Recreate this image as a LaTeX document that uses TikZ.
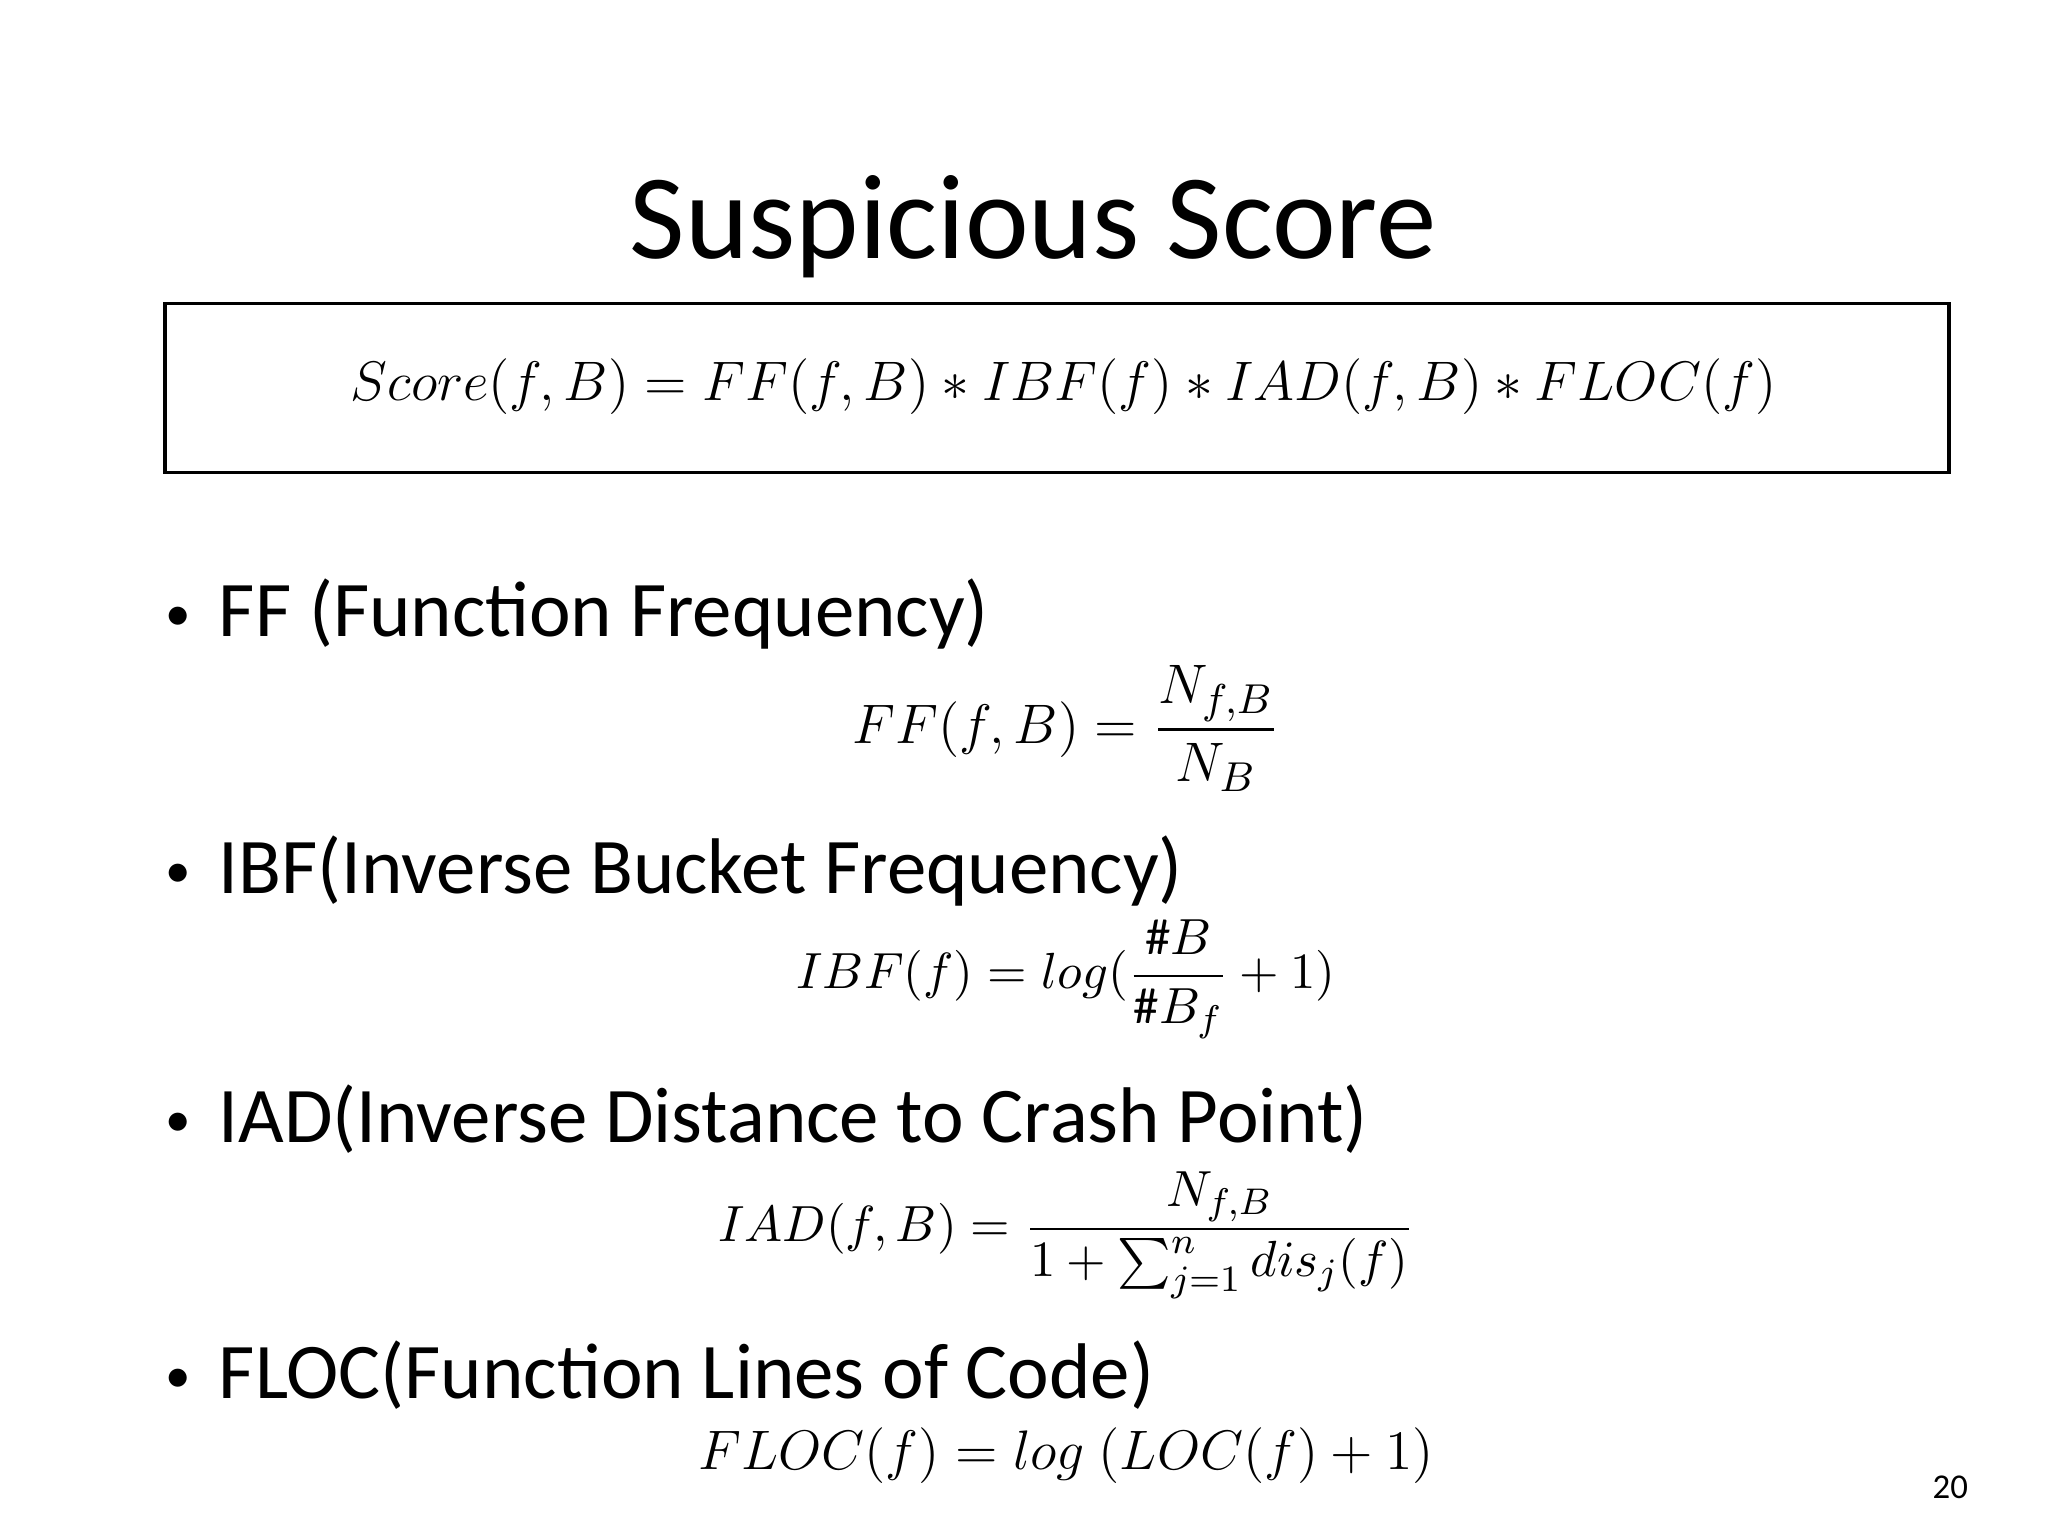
\documentclass[tikz,border=0pt]{standalone}
\usepackage{fontspec}
\setmainfont{Carlito}
\usepackage{amsmath}
\begin{document}
\begin{tikzpicture}[x=0.01cm,y=-0.01cm,
  bul/.style={anchor=west,font=\fontsize{17}{20}\selectfont,inner sep=0},
  eq/.style={inner sep=0}]
\useasboundingbox (0,0) rectangle (1552,1164);
\newcommand{\bu}{{\fontsize{11}{12}\selectfont\raisebox{0.25ex}{•}}\hspace{0.35em}}
\node[font=\fontsize{26}{30}\selectfont] (title) at (783,172) {Suspicious Score};
\coordinate (bl) at (125,230);
\coordinate (br) at (1477,358);
\draw[line width=0.8pt] (bl) rectangle (br);
\node[eq,font=\fontsize{12.8}{16}\selectfont] (main) at (806,293) {$Score(f,B)=FF(f,B)*IBF(f)*IAD(f,B)*FLOC(f)$};
\node[bul] (b1) at (125,465) {\bu FF (Function Frequency)};
\node[eq,font=\fontsize{12.5}{15}\selectfont] (e1) at (808,552) {$FF(f,B)=\dfrac{N_{f,B}}{N_B}$};
\node[bul] (b2) at (125,660) {\bu IBF(Inverse Bucket Frequency)};
\node[eq,font=\fontsize{11}{14}\selectfont] (e2) at (808,742) {$IBF(f)=log(\dfrac{\#B}{\#B_f}+1)$};
\node[bul] (b3) at (125,848) {\bu IAD(Inverse Distance to Crash Point)};
\node[eq,font=\fontsize{11}{14}\selectfont] (e3) at (808,936) {$IAD(f,B)=\dfrac{N_{f,B}}{1+\sum_{j=1}^{n}dis_j(f)}$};
\node[bul] (b4) at (125,1042) {\bu FLOC(Function Lines of Code)};
\node[eq,font=\fontsize{13.2}{16}\selectfont] (e4) at (808,1103) {$FLOC(f)=log\ (LOC(f)+1)$};
\node[font=\fontsize{7.5}{9}\selectfont] (pg) at (1478,1127) {20};
\end{tikzpicture}
\end{document}
